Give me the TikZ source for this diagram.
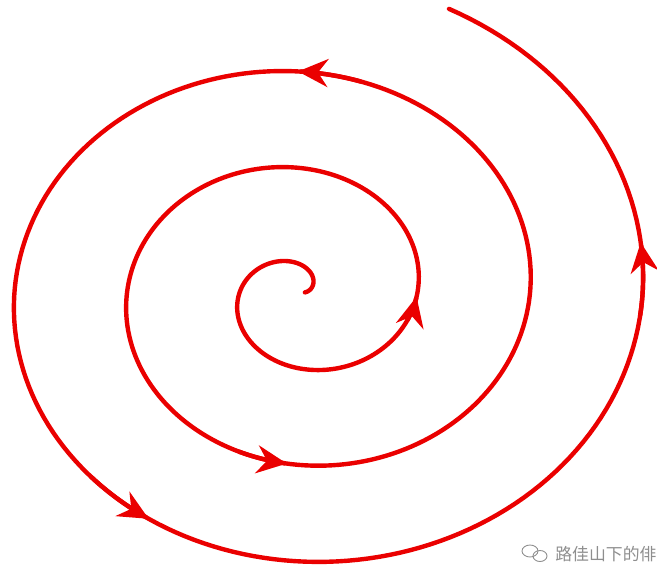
\documentclass[tikz,border=0pt]{standalone}
\usepackage{fontspec}
\newfontfamily\cjkfont{Noto Sans CJK SC}
\usetikzlibrary{arrows.meta}
\definecolor{spiralred}{HTML}{EA0000}
\definecolor{markgray}{HTML}{8E8E8E}
\tikzset{
  spiralline/.style={draw=spiralred, line width=0.088cm, line cap=round},
  spiraltip/.style={-{Stealth[length=0.6cm, width=0.56cm, inset=0.2cm]}},
}

\begin{document}
\begin{tikzpicture}[x=0.02cm, y=-0.02cm,
    declare function={sx(\t)=300.4+17.92*(\t+0.25)*cos(deg(\t));
                      sy(\t)=292.4-15.35*(\t+0.25)*sin(deg(\t));}]
  \useasboundingbox (0,0) rectangle (657,572);
  % spiral, from the centre outwards
  \draw[spiralline] plot[domain=0:20.0, samples=600, variable=\t] ({sx(\t)},{sy(\t)});
  % arrow heads along the spiral
  \foreach \a in {6.24, 10.928, 14.147, 16.758, 19.02}
    \draw[spiralline, spiraltip] plot[domain=\a-0.25:\a, samples=30, variable=\t] ({sx(\t)},{sy(\t)});
  % watermark
  \draw[markgray, line width=0.5pt] (530,551) ellipse [x radius=8, y radius=6];
  \draw[markgray, line width=0.5pt] (540,556) ellipse [x radius=7, y radius=5.5];
  \node[anchor=west, inner sep=0pt, text=markgray, font=\cjkfont\fontsize{9.6pt}{10pt}\selectfont]
    (mark) at (555,554) {路佳山下的俳};
\end{tikzpicture}
\end{document}
